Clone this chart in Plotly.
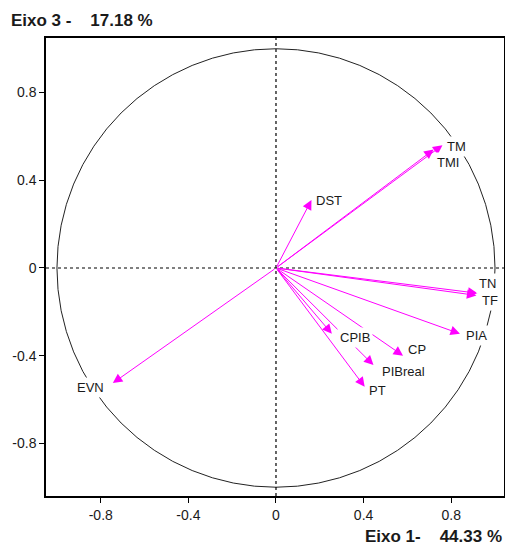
import plotly.graph_objects as go

# ---- data (loadings on Eixo 1 / Eixo 3) ----
variables = ["TM", "TMI", "DST", "TN", "TF", "PIA", "CPIB", "CP", "PIBreal", "PT", "EVN"]
eixo1 = [0.76, 0.72, 0.162, 0.92, 0.915, 0.84, 0.255, 0.58, 0.445, 0.405, -0.745]
eixo3 = [0.56, 0.54, 0.31, -0.115, -0.125, -0.30, -0.30, -0.40, -0.443, -0.542, -0.525]
tick_vals = [-0.8, -0.4, 0, 0.4, 0.8]
tick_text = ["-0.8", "-0.4", "0", "0.4", "0.8"]
title_y = "Eixo 3 -\u00a0\u00a0\u00a0\u00a017.18 %"
title_x = "Eixo 1-\u00a0\u00a0\u00a0\u00a044.33 %"

# label offsets in pixels (styling)
label_shift = {
    "TM": (14, -1), "TMI": (14, -13), "DST": (18, 0), "TN": (10, 10), "TF": (14, -5),
    "PIA": (17, -2), "CPIB": (23, -4), "CP": (14, 6), "PIBreal": (30, -6),
    "PT": (13, -4), "EVN": (-22, -4),
}

FONT = "Arial, Liberation Sans, sans-serif"
MAG = "#FF00FF"

fig = go.Figure()
fig.add_trace(go.Scatter(x=[None], y=[None], showlegend=False, hoverinfo="skip"))

shapes = [
    dict(type="circle", xref="x", yref="y", x0=-1, y0=-1, x1=1, y1=1,
         line=dict(color="#222222", width=1)),
    dict(type="line", xref="paper", yref="y", x0=0, x1=1, y0=0, y1=0,
         line=dict(color="black", width=1.2, dash="3px,3px")),
    dict(type="line", xref="x", yref="paper", x0=0, x1=0, y0=0, y1=1,
         line=dict(color="black", width=1.2, dash="3px,3px")),
]

annotations = []
for name, xv, yv in zip(variables, eixo1, eixo3):
    annotations.append(dict(
        x=xv, y=yv, xref="x", yref="y", ax=0, ay=0, axref="x", ayref="y",
        text="", showarrow=True, arrowhead=2, arrowsize=1.9, arrowwidth=1,
        arrowcolor=MAG, standoff=0, startstandoff=0))
for name, xv, yv in zip(variables, eixo1, eixo3):
    dx, dy = label_shift[name]
    annotations.append(dict(
        x=xv, y=yv, xref="x", yref="y", text=name, showarrow=False,
        xshift=dx, yshift=dy, bgcolor="white", borderpad=2,
        font=dict(family=FONT, size=13, color="#1a1a1a")))

annotations.append(dict(
    x=-36 / 458, y=(496 - 20) / 458, xref="paper", yref="paper", text="<b>" + title_y + "</b>",
    showarrow=False, xanchor="left", yanchor="middle", borderpad=0,
    font=dict(family=FONT, size=17, color="#1a1a1a")))
annotations.append(dict(
    x=(503 - 46) / 458, y=(496 - 536) / 458, xref="paper", yref="paper", text="<b>" + title_x + "</b>",
    showarrow=False, xanchor="right", yanchor="middle", borderpad=0,
    font=dict(family=FONT, size=17, color="#1a1a1a")))

axis_common = dict(
    tickvals=tick_vals, ticktext=tick_text, ticks="outside", ticklen=5, tickwidth=1,
    tickcolor="black", showline=True, linecolor="black", linewidth=1.5, mirror=True,
    showgrid=False, zeroline=False, automargin=False,
    tickfont=dict(family=FONT, size=14, color="#1a1a1a"),
)

fig.update_layout(
    width=505, height=545,
    margin=dict(l=46, r=1, t=38, b=49, pad=0, autoexpand=False),
    paper_bgcolor="white", plot_bgcolor="white",
    xaxis=dict(range=[-1.05, 1.041], **axis_common),
    yaxis=dict(range=[-1.04, 1.049], **axis_common),
    shapes=shapes, annotations=annotations, showlegend=False,
)

fig.write_html("out.html", config={"displayModeBar": False},
               post_script="document.body.style.margin='0px';document.body.style.overflow='hidden';")
